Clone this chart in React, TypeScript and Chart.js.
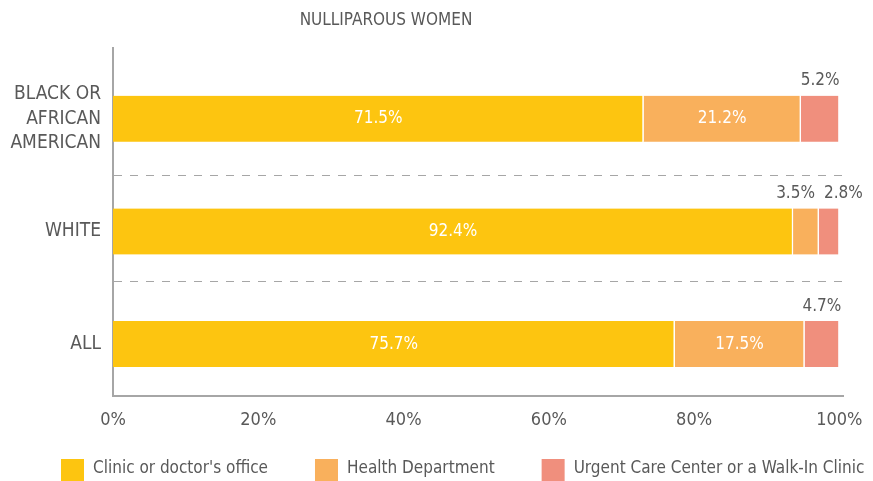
import React, { useEffect, useRef } from "react";
import { Chart, registerables } from "chart.js";

Chart.register(...registerables);

// ---- data ----
const categories: (string | string[])[] = [["BLACK OR", "AFRICAN", "AMERICAN"], "WHITE", "ALL"];
const seriesNames = ["Clinic or doctor's office", "Health Department", "Urgent Care Center or a Walk-In Clinic"];
const clinic = [71.5, 92.4, 75.7];
const healthDept = [21.2, 3.5, 17.5];
const urgentCare = [5.2, 2.8, 4.7];
const xTickValues = [0, 20, 40, 60, 80, 100];
const chartTitle = "NULLIPAROUS WOMEN";

const colors = ["#FDC510", "#F9B05C", "#F08F7D"];
const FONT = "'Liberation Sans Narrow', 'DejaVu Sans Condensed', 'Liberation Sans', sans-serif";
const TEXT = "#595959";

const allSeries = [clinic, healthDept, urgentCare];
const totals = categories.map((_, i) => allSeries.reduce((s, arr) => s + arr[i], 0));

const titlePlugin = {
  id: "customTitle",
  afterDraw(chart: any) {
    const ctx = chart.ctx;
    ctx.save();
    ctx.font = `17px ${FONT}`;
    ctx.fillStyle = TEXT;
    ctx.textAlign = "center";
    ctx.textBaseline = "middle";
    ctx.fillText(chartTitle, 386, 21);
    ctx.restore();
  },
};

const legendPlugin = {
  id: "customLegend",
  afterDraw(chart: any) {
    const ctx = chart.ctx;
    ctx.save();
    ctx.font = `17px ${FONT}`;
    ctx.textBaseline = "middle";
    ctx.textAlign = "left";
    let x = 61;
    const yTop = 459;
    const box = 23;
    seriesNames.forEach((name, i) => {
      ctx.fillStyle = colors[i];
      ctx.fillRect(x, yTop, box, box);
      ctx.fillStyle = TEXT;
      const tx = x + box + 9;
      ctx.fillText(name, tx, yTop + 10);
      x = tx + ctx.measureText(name).width + 47;
    });
    ctx.restore();
  },
};

const valueLabelPlugin = {
  id: "valueLabels",
  afterDatasetsDraw(chart: any) {
    const ctx = chart.ctx;
    ctx.save();
    ctx.font = `17px ${FONT}`;
    ctx.textBaseline = "middle";
    ctx.textAlign = "center";
    categories.forEach((_, idx) => {
      const outside: { x: number; y: number; text: string; w: number }[] = [];
      chart.data.datasets.forEach((ds: any, di: number) => {
        const meta = chart.getDatasetMeta(di);
        const bar = meta.data[idx];
        const raw = allSeries[di][idx];
        const text = raw.toFixed(1) + "%";
        const left = Math.min(bar.x, bar.base);
        const right = Math.max(bar.x, bar.base);
        const cx = (left + right) / 2;
        if (raw >= 10) {
          ctx.fillStyle = "#FFFFFF";
          ctx.fillText(text, cx, bar.y);
        } else {
          outside.push({ x: cx, y: bar.y - bar.height / 2 - 15, text, w: ctx.measureText(text).width });
        }
      });
      for (let k = 1; k < outside.length; k++) {
        const a = outside[k - 1];
        const b = outside[k];
        const need = (a.w + b.w) / 2 + 9;
        const dist = b.x - a.x;
        if (dist < need) {
          const mid = (a.x + b.x) / 2 + 2;
          a.x = mid - need / 2;
          b.x = mid + need / 2;
        }
      }
      ctx.fillStyle = TEXT;
      outside.forEach((o) => ctx.fillText(o.text, o.x, o.y));
    });
    ctx.restore();
  },
};

export default function App() {
  const canvasRef = useRef<HTMLCanvasElement | null>(null);

  useEffect(() => {
    if (!canvasRef.current) return;
    const datasets = allSeries.map((arr, di) => ({
      label: seriesNames[di],
      data: arr.map((v, i) => ({ x: (v / totals[i]) * 100, y: i })),
      backgroundColor: colors[di],
      borderColor: "#FFFFFF",
      borderWidth: { top: 0, bottom: 0, left: 0, right: 1.5 },
      borderSkipped: false,
      barThickness: 46,
    }));

    const chart = new Chart(canvasRef.current, {
      type: "bar",
      data: { datasets },
      options: {
        indexAxis: "y",
        animation: false,
        responsive: true,
        maintainAspectRatio: false,
        layout: { padding: { top: 48, right: 30, left: 0, bottom: 0 } },
        plugins: {
          legend: { display: false },
          title: { display: false },
          tooltip: { enabled: false },
        },
        scales: {
          x: {
            type: "linear",
            stacked: true,
            bounds: "data",
            offset: false,
            min: 0,
            max: 100.5,
            afterBuildTicks: (scale: any) => {
              scale.ticks = xTickValues.map((v) => ({ value: v }));
            },
            afterFit: (scale: any) => {
              scale.height = 85;
              scale.paddingRight = 0;
              scale.paddingLeft = 0;
            },
            grid: { display: false, drawTicks: false, offset: false },
            border: { display: true, color: "#A6A6A6", width: 2 },
            ticks: {
              padding: 14,
              color: TEXT,
              font: { family: FONT, size: 18 },
              callback: (v: any) => `${v}%`,
            },
          },
          y: {
            type: "linear",
            stacked: true,
            reverse: true,
            bounds: "data",
            offset: false,
            min: -0.629,
            max: 2.461,
            afterBuildTicks: (scale: any) => {
              scale.ticks = [0, 0.5, 1, 1.44, 2].map((v) => ({ value: v }));
            },
            afterFit: (scale: any) => {
              scale.width = 113;
            },
            grid: {
              offset: false,
              drawTicks: false,
              lineWidth: 1,
              color: (ctx: any) =>
                ctx.tick && !Number.isInteger(ctx.tick.value) ? "#A6A6A6" : "rgba(0,0,0,0)",
            },
            border: {
              display: true,
              color: "#A6A6A6",
              width: 2,
              dash: (ctx: any) => (ctx.tick && !Number.isInteger(ctx.tick.value) ? [8, 8] : []),
            } as any,
            ticks: {
              padding: 12,
              color: TEXT,
              autoSkip: false,
              font: { family: FONT, size: 19, lineHeight: 1.29 },
              callback: (v: any) => (Number.isInteger(v) ? (categories[v] as any) : ""),
            },
          },
        },
      } as any,
      plugins: [titlePlugin, legendPlugin, valueLabelPlugin],
    });
    return () => chart.destroy();
  }, []);

  return (
    <div style={{ position: "absolute", left: 0, top: 0, width: 873, height: 481 }}>
      <canvas ref={canvasRef} />
    </div>
  );
}
